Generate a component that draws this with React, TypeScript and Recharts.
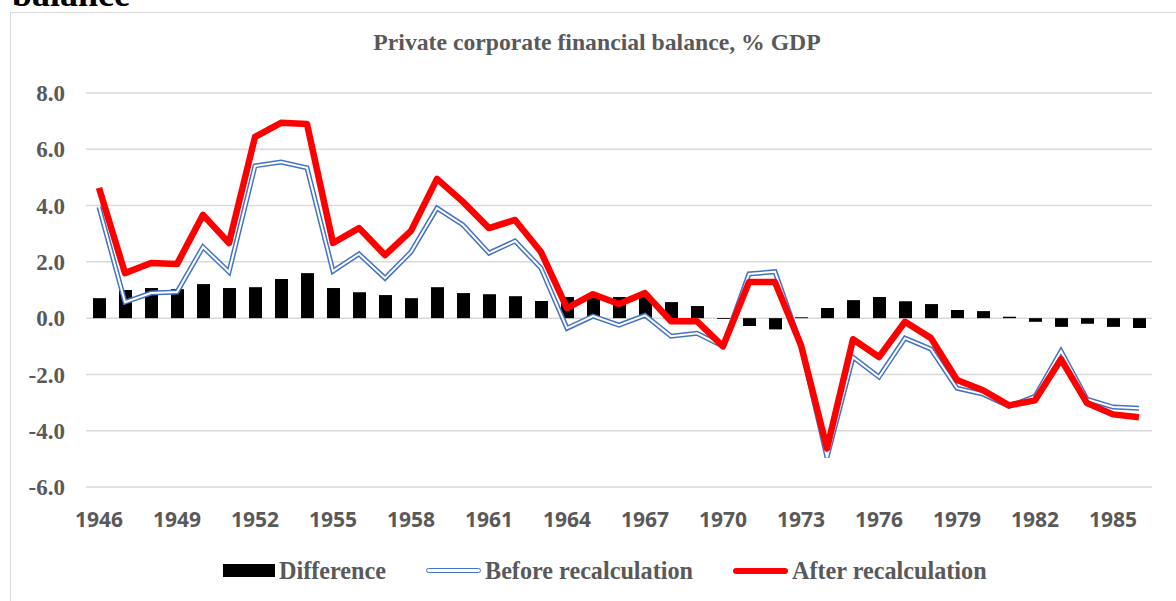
import { Bar, CartesianGrid, ComposedChart, Line, XAxis, YAxis } from "recharts"

const years = [
  "1946", "1947", "1948", "1949", "1950", "1951", "1952", "1953", "1954", "1955", "1956",
  "1957", "1958", "1959", "1960", "1961", "1962", "1963", "1964", "1965", "1966",
  "1967", "1968", "1969", "1970", "1971", "1972", "1973", "1974", "1975", "1976",
  "1977", "1978", "1979", "1980", "1981", "1982", "1983", "1984", "1985", "1986",
]

const difference = [
  0.71, 1.0, 1.07, 1.03, 1.21, 1.07, 1.1, 1.39, 1.6, 1.07, 0.92,
  0.82, 0.71, 1.1, 0.89, 0.85, 0.78, 0.61, 0.75, 0.75, 0.75,
  0.75, 0.57, 0.43, -0.03, -0.28, -0.4, 0.03, 0.36, 0.64, 0.75,
  0.6, 0.5, 0.29, 0.25, 0.05, -0.13, -0.31, -0.2, -0.31, -0.35,
]

const before = [
  3.95, 0.57, 0.89, 0.93, 2.53, 1.64, 5.41, 5.55, 5.34, 1.67, 2.28,
  1.42, 2.35, 3.91, 3.31, 2.31, 2.74, 1.78, -0.36, 0.07, -0.25,
  0.1, -0.64, -0.54, -1.0, 1.57, 1.65, -0.96, -4.95, -1.39, -2.09,
  -0.71, -1.1, -2.49, -2.7, -3.13, -2.78, -1.17, -2.88, -3.16, -3.2,
]

const after = [
  4.63, 1.6, 1.96, 1.92, 3.67, 2.67, 6.44, 6.94, 6.9, 2.67, 3.2,
  2.24, 3.1, 4.95, 4.13, 3.2, 3.49, 2.35, 0.36, 0.85, 0.5,
  0.89, -0.11, -0.11, -1.0, 1.28, 1.28, -0.96, -4.63, -0.75, -1.38,
  -0.13, -0.71, -2.2, -2.56, -3.1, -2.92, -1.46, -3.02, -3.42, -3.52,
]

const yTicks = [-6, -4, -2, 0, 2, 4, 6, 8]

const data = years.map((year, i) => ({
  year,
  difference: difference[i],
  before: before[i],
  after: after[i],
}))

const gray = "#595959"
const serif = "'Liberation Serif', 'Times New Roman', serif"

function LegendItem({ icon, label }: { icon: React.ReactNode; label: string }) {
  return (
    <div style={{ display: "flex", alignItems: "center" }}>
      {icon}
      <span style={{ marginLeft: 4 }}>{label}</span>
    </div>
  )
}

export default function App() {
  return (
    <div
      style={{
        position: "fixed",
        left: 0,
        top: 0,
        width: 1176,
        height: 601,
        overflow: "hidden",
        background: "#fff",
      }}
    >
      <div
        style={{
          position: "absolute",
          left: 12,
          top: -24,
          fontFamily: serif,
          fontWeight: 700,
          fontSize: 36,
          lineHeight: "36px",
          color: "#000",
        }}
      >
        balance
      </div>
      <div
        style={{
          position: "absolute",
          left: 10,
          top: 12,
          width: 1200,
          height: 620,
          border: "1px solid #d9d9d9",
          boxSizing: "border-box",
        }}
      />
      <div
        style={{
          position: "absolute",
          left: 597,
          top: 31,
          transform: "translateX(-50%)",
          whiteSpace: "nowrap",
          fontFamily: serif,
          fontWeight: 700,
          fontSize: 23.7,
          lineHeight: "23px",
          color: gray,
        }}
      >
        Private corporate financial balance, % GDP
      </div>

      <div style={{ position: "absolute", left: 0, top: 0 }}>
        <ComposedChart
          width={1176}
          height={601}
          data={data}
          margin={{ top: 93, right: 24, bottom: 0, left: 0 }}
        >
          <CartesianGrid vertical={false} stroke="#d9d9d9" strokeWidth={1.5} />
          <XAxis
            dataKey="year"
            interval={2}
            axisLine={false}
            tickLine={false}
            tickSize={0}
            tickMargin={25}
            height={114}
            tick={{ fill: gray, fontSize: 21, fontWeight: 700, fontFamily: "'Open Sans', sans-serif" }}
          />
          <YAxis
            domain={[-6, 8]}
            ticks={yTicks}
            interval={0}
            width={86}
            axisLine={false}
            tickLine={false}
            tickSize={0}
            tickMargin={21}
            tickFormatter={(v: number) => v.toFixed(1)}
            tick={{ fill: gray, fontSize: 23, fontWeight: 700, fontFamily: serif }}
          />
          <Bar dataKey="difference" fill="#000" barSize={13} isAnimationActive={false} />
          <Line
            dataKey="before"
            stroke="#4472C4"
            strokeWidth={5}
            dot={false}
            activeDot={false}
            isAnimationActive={false}
          />
          <Line
            dataKey="before"
            stroke="#ffffff"
            strokeWidth={2}
            dot={false}
            activeDot={false}
            isAnimationActive={false}
          />
          <Line
            dataKey="after"
            stroke="#FF0000"
            strokeWidth={6.5}
            strokeLinejoin="round"
            dot={false}
            activeDot={false}
            isAnimationActive={false}
          />
        </ComposedChart>
      </div>

      <div
        style={{
          position: "absolute",
          left: 223,
          top: 559,
          display: "flex",
          gap: 40,
          fontFamily: serif,
          fontWeight: 700,
          fontSize: 24.2,
          lineHeight: "23px",
          color: gray,
        }}
      >
        <LegendItem
          label="Difference"
          icon={<div style={{ width: 52, height: 13, background: "#000" }} />}
        />
        <LegendItem
          label="Before recalculation"
          icon={
            <div
              style={{
                width: 53,
                height: 3,
                background: "#fff",
                border: "1.5px solid #4472C4",
                borderRadius: 3,
              }}
            />
          }
        />
        <LegendItem
          label="After recalculation"
          icon={<div style={{ width: 55, height: 6, background: "#FF0000", borderRadius: 3 }} />}
        />
      </div>
    </div>
  )
}
